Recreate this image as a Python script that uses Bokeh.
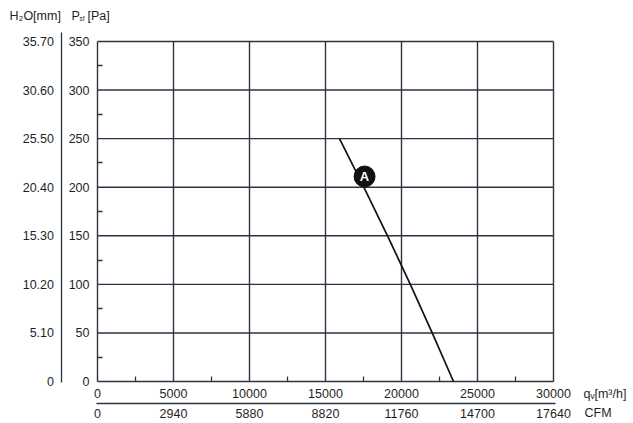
from bokeh.plotting import figure
from bokeh.models import LinearAxis, FixedTicker, Range1d, Label
from bokeh.embed import file_html
from bokeh.resources import INLINE
from bokeh.core.properties import value

# ---- data ----
pa_ticks = [0, 50, 100, 150, 200, 250, 300, 350]
pa_minor = [25, 75, 125, 175, 225, 275, 325]
h2o_labels = ["0", "5.10", "10.20", "15.30", "20.40", "25.50", "30.60", "35.70"]
q_ticks = [0, 5000, 10000, 15000, 20000, 25000, 30000]
q_minor = [2500, 7500, 12500, 17500, 22500, 27500]
cfm_labels = ["0", "2940", "5880", "8820", "11760", "14700", "17640"]

curve_q = [15920, 17520, 19080, 20580, 22020, 23420]
curve_p = [250, 200, 150, 100, 50, 0]

marker_q = [17570]
marker_p = [211]
marker_text = ["A"]

# ---- style / layout ----
FONT = "Liberation Sans"
FS = "12.5px"
TXT = "#1f1f1f"
GRID = "#2c3440"
W, H = 633, 423
X0_PX, X1_PX = 97, 553      # pixel columns of the first / last flow tick
Y0_PX, Y1_PX = 381, 41      # pixel rows of the first / last pressure tick

qmin, qmax = q_ticks[0], q_ticks[-1]
pmin, pmax = pa_ticks[0], pa_ticks[-1]
qpp = (qmax - qmin) / (X1_PX - X0_PX)
ppp = (pmax - pmin) / (Y0_PX - Y1_PX)


def dx(px):
    return qmin + (px - X0_PX) * qpp


def dy(py):
    return pmin + (Y0_PX - py) * ppp


p = figure(width=W, height=H,
           x_range=Range1d(dx(0), dx(W)), y_range=Range1d(dy(H), dy(0)),
           output_backend="svg", toolbar_location=None,
           x_axis_type=None, y_axis_type=None,
           min_border=0, min_border_left=0, min_border_right=0,
           min_border_top=0, min_border_bottom=0,
           background_fill_color="white", border_fill_color="white")
p.outline_line_color = None
p.xgrid.visible = False
p.ygrid.visible = False

# ---- grid (frame included) ----
n_q, n_p = len(q_ticks), len(pa_ticks)
p.segment(x0=q_ticks, y0=[pmin] * n_q, x1=q_ticks, y1=[pmax] * n_q,
          line_color=GRID, line_width=1.4)
p.segment(x0=[qmin] * n_p, y0=pa_ticks, x1=[qmax] * n_p, y1=pa_ticks,
          line_color=GRID, line_width=1.4)

label_style = dict(major_label_text_font=FONT, major_label_text_font_size=FS,
                   major_label_text_color=TXT)
no_major = dict(major_tick_line_color=None, major_tick_in=0, major_tick_out=0)
no_minor = dict(minor_tick_line_color=None, minor_tick_in=0, minor_tick_out=0)

ax_pa = LinearAxis(fixed_location=qmin, bounds=(pmin, pmax),
                   ticker=FixedTicker(ticks=pa_ticks, minor_ticks=pa_minor),
                   axis_line_color=None, minor_tick_in=5, minor_tick_out=0,
                   minor_tick_line_color=GRID, minor_tick_line_width=1.3,
                   major_label_standoff=8, **no_major, **label_style)
p.add_layout(ax_pa, "left")

ax_h2o = LinearAxis(fixed_location=dx(60.5), bounds=(dy(382), dy(32)),
                    ticker=FixedTicker(ticks=pa_ticks),
                    major_label_overrides=dict(zip(pa_ticks, h2o_labels)),
                    axis_line_color=GRID, axis_line_width=1.3,
                    major_label_standoff=7, **no_major, **no_minor, **label_style)
p.add_layout(ax_h2o, "left")

ax_q = LinearAxis(fixed_location=pmin, bounds=(qmin, qmax),
                  ticker=FixedTicker(ticks=q_ticks, minor_ticks=q_minor),
                  axis_line_color=None, minor_tick_in=5, minor_tick_out=0,
                  minor_tick_line_color=GRID, minor_tick_line_width=1.3,
                  major_label_standoff=7, **no_major, **label_style)
p.add_layout(ax_q, "below")

ax_cfm = LinearAxis(fixed_location=dy(403.3), bounds=(dx(96), dx(555)),
                    ticker=FixedTicker(ticks=q_ticks),
                    major_label_overrides=dict(zip(q_ticks, cfm_labels)),
                    axis_line_color=GRID, axis_line_width=1.3,
                    major_label_standoff=5, **no_major, **no_minor, **label_style)
p.add_layout(ax_cfm, "below")

# ---- curve and marker ----
p.line(curve_q, curve_p, line_color="#111111", line_width=1.7)
p.scatter(marker_q, marker_p, size=21, marker="circle",
          fill_color="#111111", line_color="#111111")
p.text(marker_q, marker_p, text=marker_text, text_align="center", text_baseline="middle",
       text_color="white", text_font=value(FONT), text_font_style="bold",
       text_font_size="13px")


# ---- unit headers ----
def add_label(px, py, text, size=FS):
    p.add_layout(Label(x=dx(px), y=dy(py), text=text, text_font=FONT,
                       text_font_size=size, text_color=TXT,
                       text_baseline="middle", text_align="left"))


add_label(9, 15, "H₂O[mm]")
add_label(71, 15, "P")
add_label(79, 18, "sf", "6.5px")
add_label(87, 15, "[Pa]")
add_label(583, 393, "qᵥ[m³/h]")
add_label(584, 412, "CFM")

open("out.html", "w").write(file_html(p, INLINE))
